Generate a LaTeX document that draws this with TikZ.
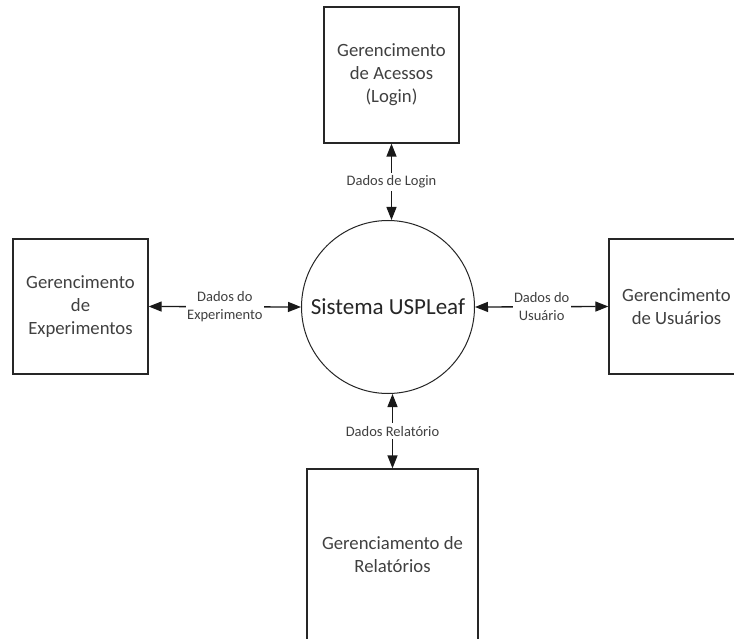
\documentclass[tikz,border=0pt]{standalone}
\usepackage{fontspec}
\setmainfont{Carlito}
\usetikzlibrary{positioning,calc,arrows.meta}
\definecolor{txtgray}{HTML}{404040}

\tikzset{
  procbox/.style={draw=black!85, line width=1.3pt, text=txtgray, align=center,
    font=\fontsize{18.7}{23}\selectfont},
  flow/.style={{Triangle[length=13pt,width=10pt]}-{Triangle[length=13pt,width=10pt]},
    line width=1.3pt, draw=black!90},
  flowlabel/.style={fill=white, text=txtgray, align=center, inner xsep=1.5pt, inner ysep=3pt,
    font=\fontsize{14.5}{18}\selectfont}
}

\begin{document}
\begin{tikzpicture}[x=1pt,y=-1pt]
  \clip (0,0) rectangle (734,639);
  \fill[white] (0,0) rectangle (734,639);
  \node[procbox, minimum width=135pt, minimum height=136pt] (login) at (391.5,75) {Gerencimento\\de Acessos\\(Login)};
  \node[procbox, minimum width=135pt, minimum height=135pt] (exper) at (80.5,306.5) {Gerencimento\\de\\Experimentos};
  \node[procbox, minimum width=135pt, minimum height=135pt] (users) at (676.5,306.5) {Gerencimento\\de Usuários};
  \node[procbox, minimum width=171pt, minimum height=172pt] (relat) at (392.5,555) {Gerenciamento de\\Relatórios};
  \node[draw=black!85, line width=1pt, circle, minimum size=173pt, inner sep=0pt, text=black!85,
    font=\fontsize{23}{27}\selectfont] (sis) at (388,307) {Sistema USPLeaf};
  \draw[flow] (login.south) -- node[flowlabel] {Dados de Login} (login.south |- sis.north);
  \draw[flow] (exper.east) -- node[flowlabel] {Dados do\\Experimento} (sis.west);
  \draw[flow] (sis.east) -- node[flowlabel] {Dados do\\Usuário} (users.west);
  \draw[flow] (relat.north |- sis.south) -- node[flowlabel] {Dados Relatório} (relat.north);
\end{tikzpicture}
\end{document}
